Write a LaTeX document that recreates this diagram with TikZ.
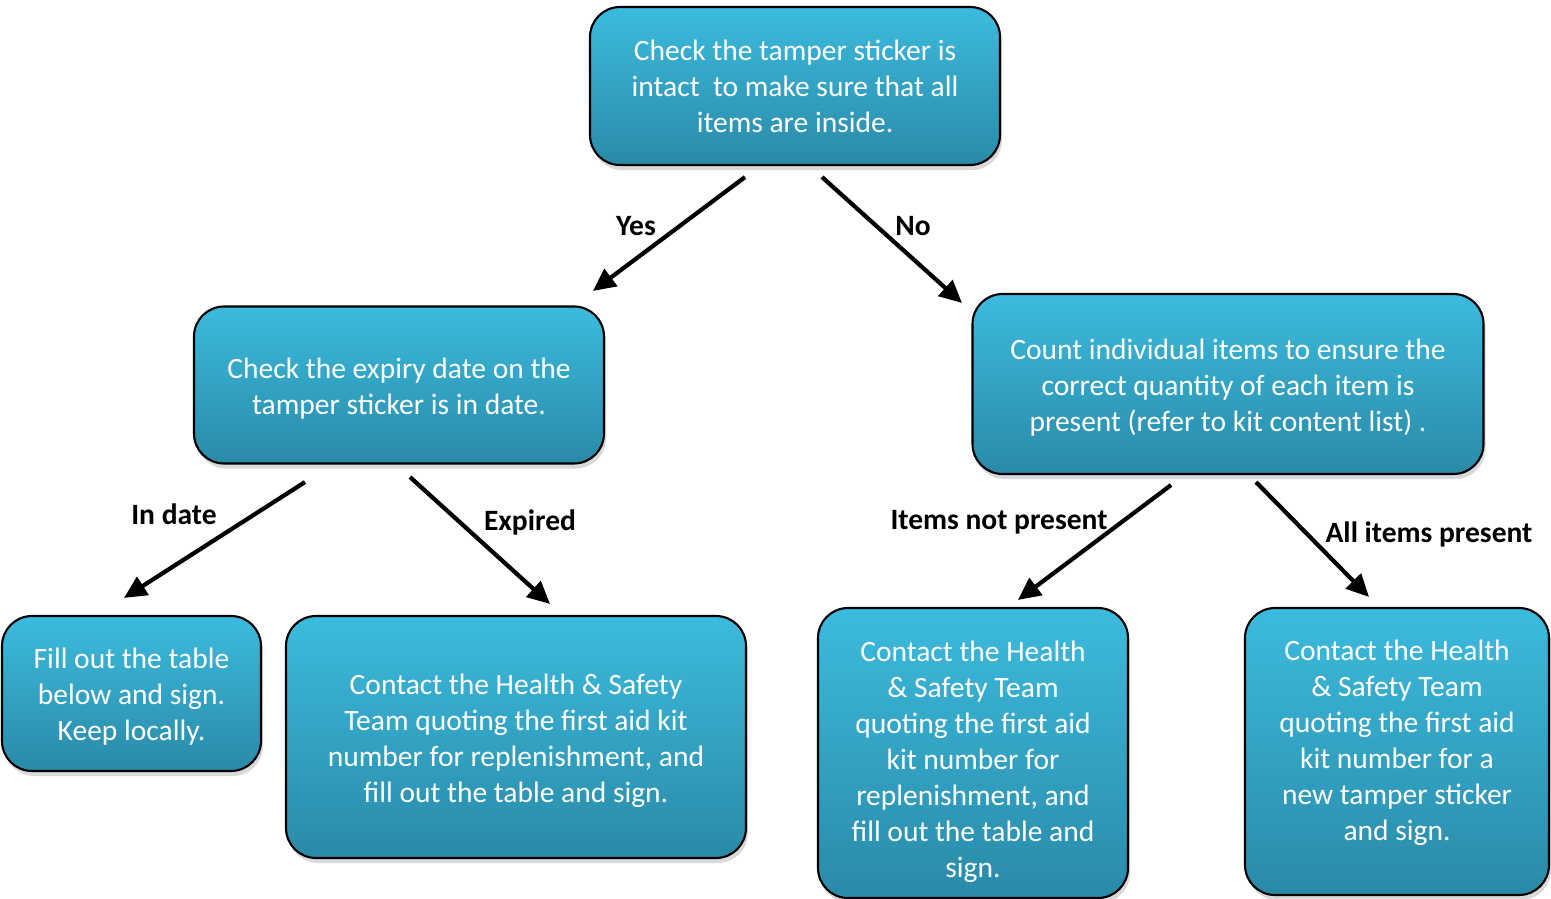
\documentclass[tikz,border=0pt]{standalone}
\usepackage{fontspec}
\setmainfont{Carlito}
\usetikzlibrary{arrows.meta, shadows}

\definecolor{boxtop}{RGB}{60,187,222}
\definecolor{boxbot}{RGB}{42,138,168}

% extra room above the first line / below the last line of a box text
\newcommand{\padtop}[1]{\vrule width 0pt height \dimexpr\fontcharht\font`h+#1\relax depth 0pt}
\newcommand{\padbot}[1]{\vrule width 0pt height 0pt depth \dimexpr\fontchardp\font`g+#1\relax}

\begin{document}
\begin{tikzpicture}[
    stepbox/.style={rectangle, rounded corners=0.6cm, draw=black, line width=1.2pt,
        top color=boxtop, bottom color=boxbot, text=white, align=center,
        inner sep=0pt, font=\fontsize{16.8}{20.5}\selectfont,
        drop shadow={opacity=0.3, shadow xshift=0.04cm, shadow yshift=-0.1cm}},
    arr/.style={-{Triangle[length=0.45cm, width=0.42cm]}, line width=2.4pt},
    lbl/.style={font=\fontsize{16.8}{19}\selectfont\bfseries}]

    \useasboundingbox (0,0) rectangle (31.02,-17.98);

    % draw nodes
    \node [stepbox, minimum width=8.2cm, minimum height=3.16cm]
        (check) at (15.9,-1.72) {Check the tamper sticker is\\intact\ \ to make sure that all\\items are inside.};
    \node [stepbox, minimum width=8.2cm, minimum height=3.14cm]
        (expiry) at (7.98,-7.7) {\padtop{0.16cm}Check the expiry date on the\\tamper sticker is in date.};
    \node [stepbox, minimum width=10.22cm, minimum height=3.6cm]
        (count) at (24.56,-7.68) {\padtop{0.16cm}Count individual items to ensure the\\correct quantity of each item is\\present (refer to kit content list) .};
    \node [stepbox, minimum width=5.18cm, minimum height=3.1cm]
        (filltab) at (2.63,-13.87) {\padtop{0.12cm}Fill out the table\\below and sign.\\Keep locally.};
    \node [stepbox, minimum width=9.2cm, minimum height=4.84cm]
        (contactA) at (10.32,-14.74) {\padtop{0.16cm}Contact the Health \& Safety\\Team quoting the first aid kit\\number for replenishment, and\\fill out the table and sign.};
    \node [stepbox, minimum width=6.2cm, minimum height=5.8cm]
        (contactB) at (19.46,-15.06) {\padtop{0.34cm}Contact the Health\\\& Safety Team\\quoting the first aid\\kit number for\\replenishment, and\\fill out the table and\\sign.};
    \node [stepbox, minimum width=6.08cm, minimum height=5.74cm]
        (contactC) at (27.94,-15.03) {Contact the Health\\\& Safety Team\\quoting the first aid\\kit number for a\\new tamper sticker\\and sign.\padbot{0.36cm}};

    % draw edges
    \foreach \s/\t/\ds/\dt in {check/expiry/{-1.0,-0.22}/{3.88,0.29},
                              check/count/{0.54,-0.22}/{-5.32,-0.2},
                              expiry/filltab/{-1.88,-0.35}/{-0.15,0.34},
                              expiry/contactA/{0.22,-0.25}/{0.68,0.22},
                              count/contactB/{-1.14,-0.2}/{0.9,0.14},
                              count/contactC/{0.56,-0.14}/{-0.56,0.2}}
        \draw [arr] ([shift={(\ds)}]\s.south) -- ([shift={(\dt)}]\t.north);

    % edge labels
    \node [lbl] (yes) at (12.72,-4.52) {Yes};
    \node [lbl] (no) at (18.26,-4.52) {No};
    \node [lbl] (indate) at (3.48,-10.28) {In date};
    \node [lbl] (expired) at (10.6,-10.44) {Expired};
    \node [lbl] (notpresent) at (19.98,-10.44) {Items not present};
    \node [lbl] (allpresent) at (28.58,-10.68) {All items present};

\end{tikzpicture}
\end{document}
